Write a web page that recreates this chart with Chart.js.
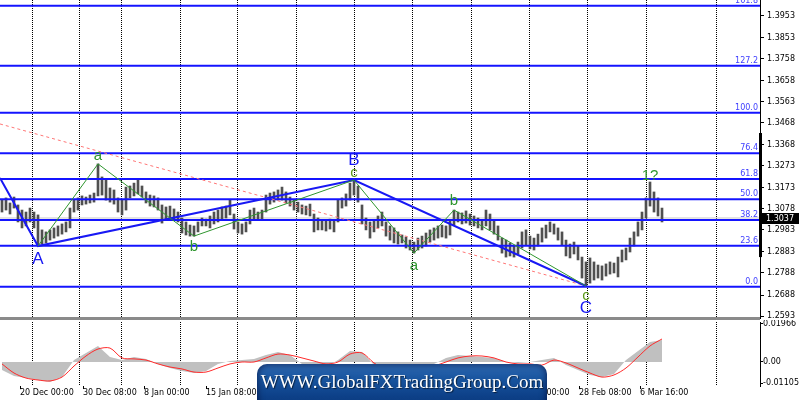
<!DOCTYPE html>
<html><head><meta charset="utf-8">
<script src="https://cdn.jsdelivr.net/npm/chart.js@4.4.1/dist/chart.umd.min.js"></script>
<style>
html,body{margin:0;padding:0;background:#fff;}
#wrap{position:relative;width:800px;height:400px;overflow:hidden;background:#fff;}
#pMain{position:absolute;left:0;top:0;width:800px;height:320px;}
#pMacd{position:absolute;left:0;top:320px;width:800px;height:80px;}
#wm{position:absolute;left:257px;top:364px;width:290px;height:46px;border-radius:10px;
 background:linear-gradient(to bottom,#2d68b2 0%,#17539d 35%,#0d4088 70%,#0a397a 100%);
 box-shadow: inset 0 0 7px rgba(0,0,40,0.7);
 color:#fff;font-family:'Liberation Serif','DejaVu Serif',serif;font-size:19px;line-height:36px;text-align:center;
 text-shadow:1px 1px 1px rgba(0,0,0,0.6);}
</style></head>
<body><div id="wrap">
<div id="pMain"><canvas id="cMain"></canvas></div>
<div id="pMacd"><canvas id="cMacd"></canvas></div>
<div id="wm">WWW.GlobalFXTradingGroup.Com</div>
</div>
<script>
// ---- price bars (one per bar index) ----
const barHigh = [
1.3118,1.3128,1.3105,1.3132,1.3096,1.3073,1.3064,1.3082,1.3064,1.3051,
1.2983,1.2974,1.2983,1.2992,1.3001,1.3010,1.3019,1.3082,1.3118,1.3128,
1.3137,1.3132,1.3141,1.3150,1.3282,1.3223,1.3209,1.3173,1.3164,1.3128,
1.3118,1.3177,1.3182,1.3195,1.3209,1.3182,1.3155,1.3141,1.3137,1.3128,
1.3096,1.3087,1.3091,1.3078,1.3064,1.3037,1.3019,1.3005,1.3001,1.3019,
1.3037,1.3032,1.3046,1.3064,1.3073,1.3087,1.3091,1.3118,1.3055,1.3019,
1.3010,1.3019,1.3073,1.3082,1.3064,1.3073,1.3141,1.3150,1.3155,1.3164,
1.3177,1.3155,1.3132,1.3118,1.3109,1.3096,1.3091,1.3100,1.3055,1.3037,
1.3028,1.3023,1.3032,1.3028,1.3118,1.3128,1.3146,1.3195,1.3209,1.3182,
1.3096,1.3037,1.3019,1.3028,1.3046,1.3064,1.3019,1.3001,1.2992,1.2974,
1.2960,1.2951,1.2937,1.2928,1.2946,1.2955,1.2969,1.2983,1.2992,1.3001,
1.3005,1.3001,1.3028,1.3073,1.3064,1.3060,1.3069,1.3055,1.3046,1.3037,
1.3028,1.3073,1.3055,1.3028,1.3001,1.2946,1.2937,1.2924,1.2910,1.2928,
1.2974,1.2983,1.2955,1.2946,1.2964,1.2992,1.3005,1.3019,1.3010,1.2992,
1.2974,1.2937,1.2919,1.2928,1.2910,1.2860,1.2838,1.2856,1.2838,1.2824,
1.2820,1.2829,1.2838,1.2833,1.2860,1.2892,1.2901,1.2946,1.2974,1.3019,
1.3064,1.3128,1.3200,1.3155,1.3128,1.3082];
const barLow = [
1.3064,1.3073,1.3055,1.3082,1.3019,1.2992,1.3001,1.3019,1.2992,1.2910,
1.2919,1.2924,1.2937,1.2946,1.2955,1.2964,1.2974,1.2992,1.3064,1.3073,
1.3096,1.3100,1.3105,1.3109,1.3137,1.3141,1.3118,1.3109,1.3100,1.3064,
1.3051,1.3073,1.3128,1.3137,1.3146,1.3132,1.3105,1.3091,1.3087,1.3073,
1.3014,1.3028,1.3037,1.3028,1.3019,1.2969,1.2960,1.2955,1.2955,1.2974,
1.3001,1.3001,1.2992,1.3010,1.3019,1.3028,1.3037,1.3051,1.2987,1.2969,
1.2964,1.2974,1.3010,1.3028,1.3028,1.3032,1.3064,1.3100,1.3109,1.3118,
1.3118,1.3105,1.3091,1.3073,1.3064,1.3055,1.3051,1.3046,1.2974,1.2983,
1.2983,1.2978,1.2987,1.2974,1.3019,1.3082,1.3091,1.3118,1.3141,1.3109,
1.3010,1.2983,1.2946,1.2974,1.2992,1.3001,1.2955,1.2937,1.2924,1.2919,
1.2924,1.2901,1.2892,1.2878,1.2892,1.2901,1.2910,1.2928,1.2937,1.2946,
1.2951,1.2946,1.2960,1.3005,1.3019,1.3010,1.3014,1.3005,1.3001,1.2992,
1.2983,1.3001,1.2983,1.2964,1.2937,1.2878,1.2860,1.2865,1.2860,1.2874,
1.2901,1.2915,1.2897,1.2892,1.2910,1.2928,1.2946,1.2974,1.2964,1.2937,
1.2915,1.2865,1.2856,1.2874,1.2847,1.2765,1.2729,1.2742,1.2756,1.2765,
1.2756,1.2774,1.2783,1.2788,1.2770,1.2838,1.2847,1.2883,1.2910,1.2955,
1.2983,1.3037,1.3091,1.3064,1.3046,1.3019];
const lastPrice = 1.3037;

// ---- axis ticks ----
const priceTicks = [1.3953,1.3853,1.3758,1.3658,1.3563,1.3468,1.3368,1.3273,1.3173,1.3078,1.2983,1.2883,1.2788,1.2688,1.2593];
const timeIdx = [4.5,20.25,35.5,51,66.5,82,97.5,113,128.75,144.25,159.5];
const timeLabels = ['20 Dec 00:00','30 Dec 08:00','8 Jan 00:00','15 Jan 08:00','22 Jan 16:00','30 Jan 00:00','6 Feb 08:00','13 Feb 16:00','21 Feb 00:00','28 Feb 08:00','6 Mar 16:00'];
const gridIdx = [7.5,19.25,29.75,44.5,58.75,73.5,88,102.5,117.25,131.75,146.25,161,178.5];

// ---- Fibonacci levels ----
const fibNames = ['161.8','127.2','100.0','76.4','61.8','50.0','38.2','23.6','0.0'];
const fibPrices = [1.3999,1.3727,1.3514,1.3330,1.3214,1.3122,1.3028,1.2911,1.2726];

// ---- wave lines ----
const waveIdx = [-0.5,9,88,146];
const wavePrice = [1.3218,1.2910,1.3209,1.2729];
const sub1Idx = [9,24,48,88];
const sub1Price = [1.2910,1.3282,1.2955,1.3209];
const sub2Idx = [88,103,113,146];
const sub2Price = [1.3209,1.2878,1.3073,1.2729];
const trendIdx = [-0.5,146];
const trendPrice = [1.3463,1.2729];
const labelText = ['A','a','b','B','c','a','b','c','C','1?'];
const labelIdx = [9,24,48,88,88,103,113,146,146,162];
const labelPrice = [1.2910,1.3282,1.2955,1.3209,1.3209,1.2878,1.3073,1.2729,1.2729,1.3200];

// ---- MACD ----
const macdIdx = [0,3,6,9,12,15,18,21,24,27,30,33,36,39,42,45,48,51,54,57,60,63,66,69,72,75,78,81,84,87,90,93,96,99,102,105,108,111,114,117,120,123,126,129,132,135,138,141,144,147,150,153,156,159,162,165];
const macdHist = [-0.0041,-0.0072,-0.0083,-0.0093,-0.0103,-0.0078,0.0010,0.0047,0.0083,0.0026,
0.0010,0.0026,0.0016,-0.0010,-0.0031,-0.0047,-0.0057,-0.0047,-0.0010,0.0005,
0.0010,0.0016,0.0036,0.0052,0.0036,-0.0010,-0.0021,-0.0026,0.0010,0.0057,
0.0052,-0.0016,-0.0041,-0.0052,-0.0041,-0.0031,-0.0010,0.0021,0.0036,0.0031,
0.0026,0.0021,0,-0.0005,0,0.0010,0.0021,-0.0016,-0.0041,-0.0067,
-0.0078,-0.0062,0.0010,0.0057,0.0103,0.0114];
const macdSignal = [-0.0010,-0.0057,-0.0083,-0.0093,-0.0098,-0.0078,-0.0021,0.0031,0.0067,0.0072,
0.0021,0.0016,0.0010,-0.0010,-0.0026,-0.0036,-0.0052,-0.0052,-0.0031,-0.0010,
0,0,0.0021,0.0041,0.0036,0.0021,0.0005,-0.0010,0,0.0041,
0.0047,-0.0005,-0.0036,-0.0047,-0.0047,-0.0036,-0.0021,0,0.0021,0.0031,
0.0031,0.0021,0,-0.0010,-0.0010,-0.0016,0.0010,-0.0005,-0.0031,-0.0057,
-0.0078,-0.0067,-0.0031,0.0026,0.0083,0.0119];
const macdTicks = [0.01966,0,-0.01105];
const macdTickText = ['0.01966','0.00','-0.01105'];

// ---- styling ----
const X_MIN = -0.5, X_MAX = 189.5;
const BLUE = '#1818f4', GREEN = '#2f962f', FIBTXT = '#4040ff';
const labelStyle = [
 {c:BLUE,s:17,dy:13},{c:GREEN,s:15,dy:-8},{c:GREEN,s:15,dy:11},{c:BLUE,s:17,dy:-20},{c:'#5d9a1a',s:15,dy:-7},
 {c:GREEN,s:15,dy:13},{c:GREEN,s:15,dy:-9},{c:'#5d9a1a',s:15,dy:10},{c:BLUE,s:17,dy:22},{c:GREEN,s:15,dy:-6}];
const FONT = 'DejaVu Sans';

function pts(xs, ys){ return xs.map((v,i)=>({x:v,y:ys[i]})); }

const vgrid = {id:'vgrid', beforeDatasetsDraw(ch){
  const {ctx, chartArea:a, scales:{x}} = ch;
  ctx.save(); ctx.strokeStyle='#000'; ctx.lineWidth=1; ctx.setLineDash([1,1]);
  gridIdx.forEach(g=>{ const px=Math.round(x.getPixelForValue(g))+0.5;
    ctx.beginPath(); ctx.moveTo(px,a.top); ctx.lineTo(px,a.bottom); ctx.stroke(); });
  ctx.restore();
}};

const overlay = {id:'overlay',
 afterDatasetsDraw(ch){
  const {ctx, chartArea:a, scales:{x,y}} = ch;
  ctx.save();
  ctx.font = '8px "'+FONT+'"'; ctx.fillStyle = FIBTXT; ctx.textAlign='right'; ctx.textBaseline='bottom';
  fibNames.forEach((n,i)=>{ ctx.fillText(n, a.right-2, y.getPixelForValue(fibPrices[i])-1); });
  ctx.textAlign='center'; ctx.textBaseline='middle';
  labelText.forEach((t,i)=>{ const st=labelStyle[i];
    ctx.font = st.s+'px "Liberation Sans"'; ctx.fillStyle = st.c;
    ctx.fillText(t, x.getPixelForValue(labelIdx[i]), y.getPixelForValue(labelPrice[i])+st.dy); });
  ctx.restore();
 },
 afterDraw(ch){
  const {ctx, chartArea:a, scales:{y}} = ch;
  ctx.save();
  ctx.fillStyle='#8a8a8a'; ctx.fillRect(0, a.bottom-1, a.right, 3);
  const y1=y.getPixelForValue(1.3422), y2=y.getPixelForValue(1.2860);
  ctx.fillStyle='#000'; ctx.fillRect(a.right-1, y1, 3, y2-y1);
  const py=y.getPixelForValue(lastPrice);
  ctx.fillStyle='#000'; ctx.fillRect(a.right+1, Math.round(py)-5, 38, 11);
  ctx.fillStyle='#fff'; ctx.font='8px "'+FONT+'"'; ctx.textAlign='left'; ctx.textBaseline='middle';
  ctx.fillText(lastPrice.toFixed(4), a.right+6, Math.round(py)+0.5);
  ctx.restore();
 }};

const lineDs = (data, color, width, extra) => Object.assign({type:'line', data, borderColor:color, borderWidth:width,
  pointRadius:0, fill:false, tension:0, order:1}, extra||{});

const mainDatasets = [
  lineDs(pts(sub1Idx, sub1Price), GREEN, 1),
  lineDs(pts(sub2Idx, sub2Price), GREEN, 1),
  lineDs(pts(waveIdx, wavePrice), BLUE, 2),
  lineDs(pts(trendIdx, trendPrice), '#ff7676', 1, {borderDash:[3,3]}),
  ...fibPrices.map(p => lineDs(pts([X_MIN,X_MAX],[p,p]), '#1414ff', 2, {order:2})),
  {type:'bar', data: barHigh.map((h,i)=>({x:i, y:[barLow[i], h]})), backgroundColor:'#505050',
   barThickness:2, order:3},
  lineDs(pts([X_MIN,X_MAX],[lastPrice,lastPrice]), '#c8c8c8', 1, {order:4})
];

new Chart(document.getElementById('cMain'), {
  data:{datasets: mainDatasets},
  options:{
    responsive:true, maintainAspectRatio:false, animation:false,
    layout:{padding:{left:0,right:0,top:0,bottom:2}},
    plugins:{legend:{display:false}, tooltip:{enabled:false}},
    scales:{
      x:{type:'linear', min:X_MIN, max:X_MAX, display:false, offset:false, grid:{offset:false}},
      y:{position:'right', min:1.2584, max:1.40245, beginAtZero:false,
        afterBuildTicks:s=>{ s.ticks = priceTicks.map(v=>({value:v})); },
        afterFit:s=>{ s.width=40; s.paddingTop=0; s.paddingBottom=0; },
        grid:{drawOnChartArea:false, drawTicks:true, tickLength:4, color:'#000'},
        border:{display:true, color:'#000', width:1},
        ticks:{autoSkip:false, padding:3, color:'#000', font:{family:FONT, size:8}, callback:v=>Number(v).toFixed(4)}}
    }
  },
  plugins:[vgrid, overlay]
});

new Chart(document.getElementById('cMacd'), {
  data:{datasets:[
    {type:'line', data: pts(macdIdx, macdSignal), borderColor:'#ff2a2a', borderWidth:1, pointRadius:0, fill:false, tension:0.3, order:0},
    {type:'line', data: pts(macdIdx, macdHist), borderColor:'#c0c0c0', borderWidth:0, backgroundColor:'#c0c0c0', pointRadius:0, fill:'origin', tension:0, order:1}
  ]},
  options:{
    responsive:true, maintainAspectRatio:false, animation:false,
    layout:{padding:{left:0,right:0,top:2,bottom:0}},
    plugins:{legend:{display:false}, tooltip:{enabled:false}},
    scales:{
      x:{type:'linear', min:X_MIN, max:X_MAX, position:'bottom', offset:false,
        afterBuildTicks:s=>{ s.ticks = timeIdx.map(v=>({value:v})); },
        afterFit:s=>{ s.height=14; s.paddingLeft=0; s.paddingRight=0; },
        grid:{drawOnChartArea:false, drawTicks:true, tickLength:3, color:'#000'},
        border:{display:false},
        ticks:{autoSkip:false, maxRotation:0, minRotation:0, align:'start', padding:-1, color:'#000',
          font:{family:FONT, size:8}, callback:(v,i)=>timeLabels[i]}},
      y:{position:'right', min:-0.01241, max:0.02068,
        afterBuildTicks:s=>{ s.ticks = macdTicks.map(v=>({value:v})); },
        afterFit:s=>{ s.width=40; s.paddingTop=0; s.paddingBottom=0; },
        grid:{drawOnChartArea:false, drawTicks:true, tickLength:3, color:'#000'},
        border:{display:true, color:'#000', width:1},
        ticks:{autoSkip:false, padding:0, color:'#000', font:{family:FONT, size:8}, callback:(v,i)=>macdTickText[i]}}
    }
  },
  plugins:[vgrid]
});
</script></body></html>
